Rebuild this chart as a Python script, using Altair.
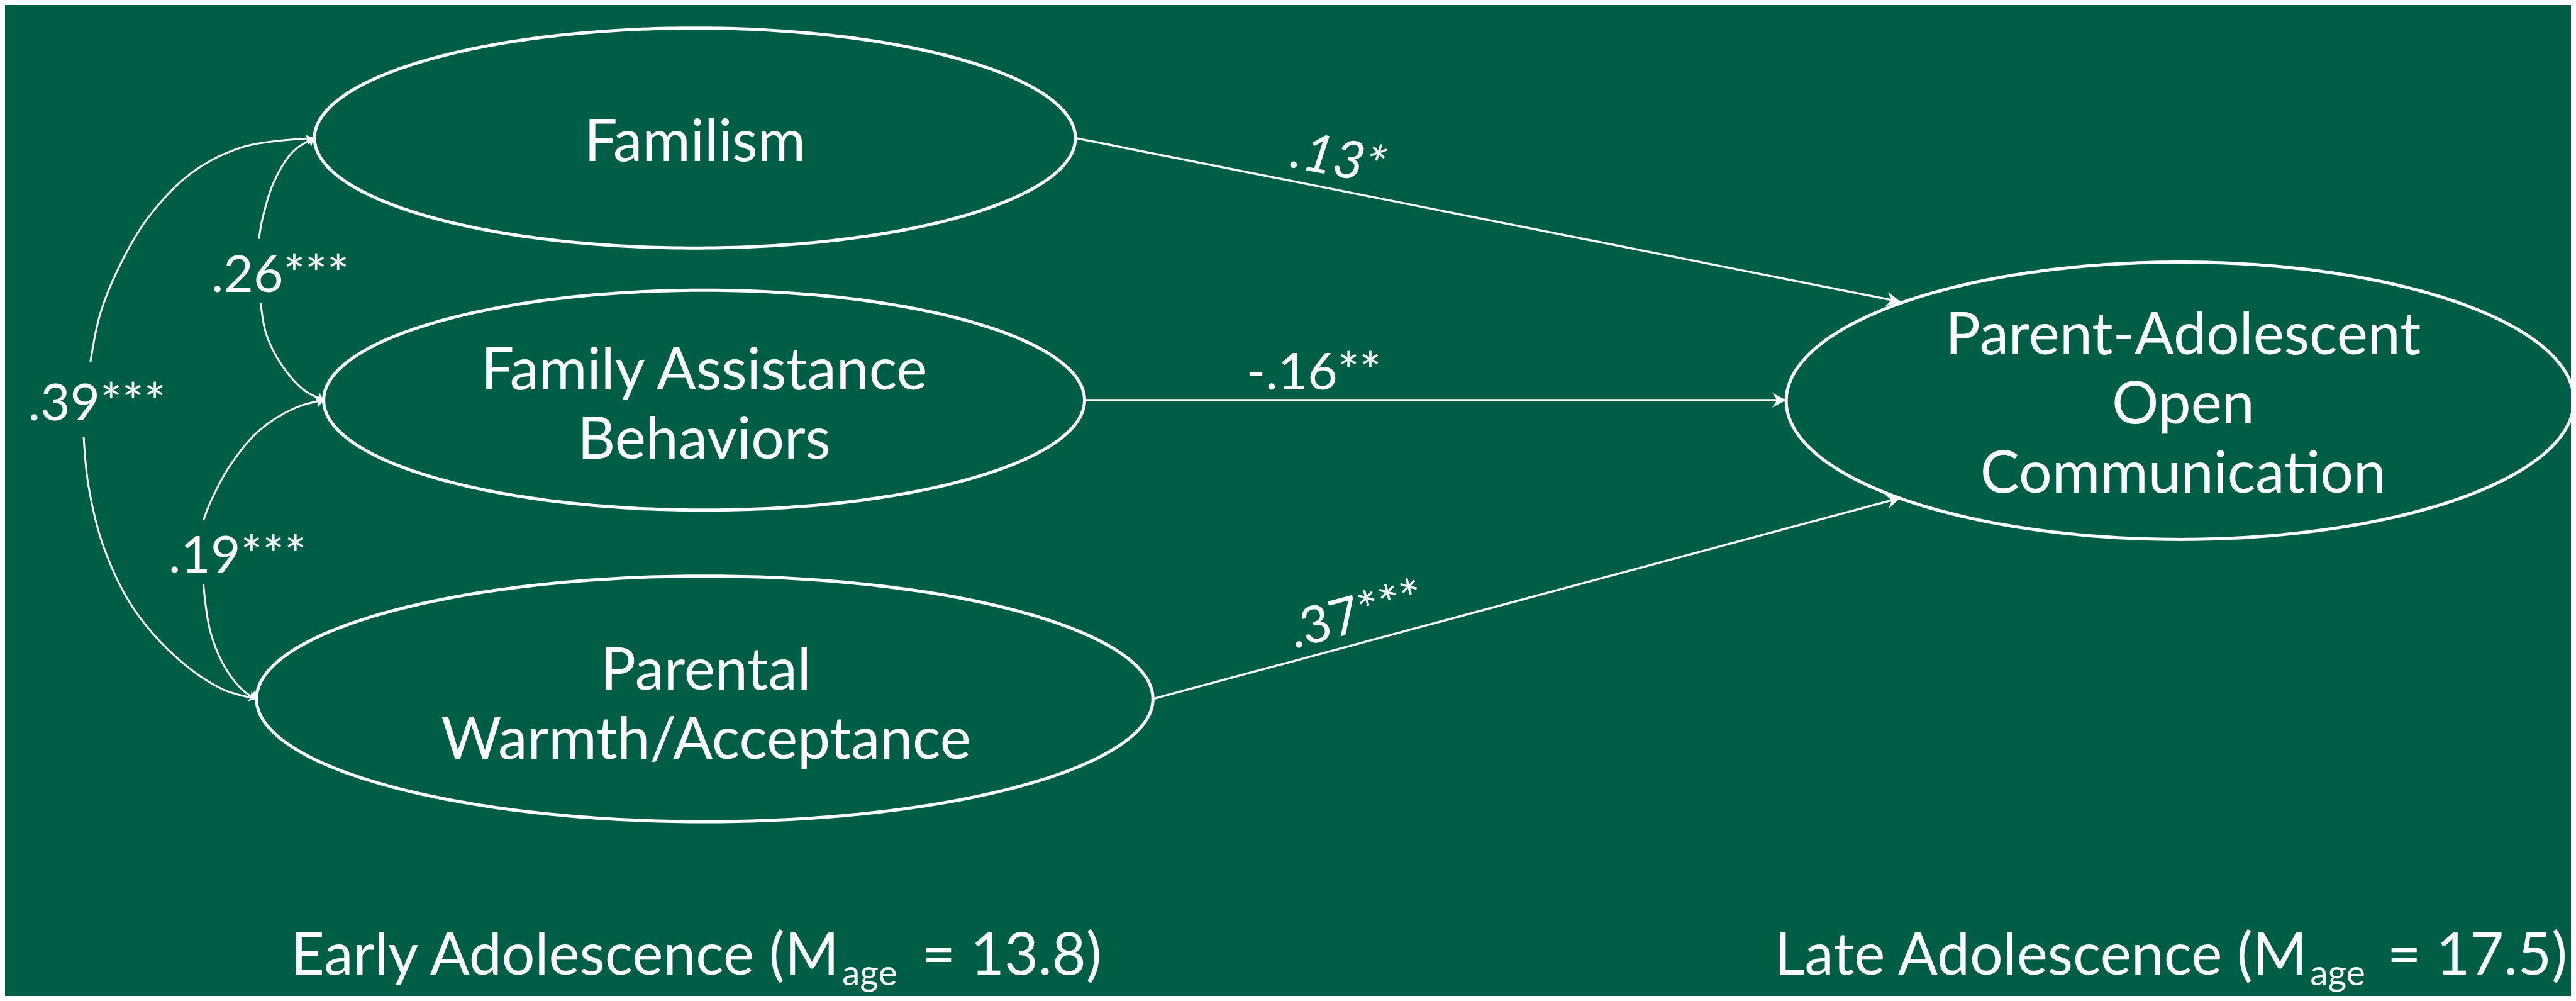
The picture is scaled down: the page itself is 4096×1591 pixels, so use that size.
import altair as alt
import pandas as pd
import numpy as np

S = 0.971
W_OUT, H_OUT = 4080, 1575
X0, X1 = 8 / S, (8 + W_OUT) / S
Y0, Y1 = 8 / S, (8 + H_OUT) / S

BG = "#005E47"
FG = "#FFFFFF"
FONT = "Lato"

# ---------------- data (reference pixel coordinates) ----------------
node_names = ["Familism", "FAB", "PWA", "PAOC"]
node_text = ["Familism", "Family Assistance\nBehaviors", "Parental\nWarmth/Acceptance",
             "Parent-Adolescent\nOpen\nCommunication"]
node_cx = [1138, 1153, 1154, 3570]
node_cy = [226, 655, 1144, 656]
node_rx = [623, 623, 734, 645]
node_ry = [180, 180, 201, 227]
text_x = [1138, 1153, 1156, 3575]
text_y = [264, 638, 1129, 580]

path_x1 = [1761, 1776, 1888]
path_y1 = [226, 655, 1144]
path_x2 = [3112, 2925, 3112]
path_y2 = [494, 655, 815]

path_lab = [".13*", "-.16**", ".37***"]
path_lab_x = [2110, 2041, 2119]
path_lab_y = [273, 637, 1062]
path_lab_ang = [11, 0, 345]

cov_lab = [".26***", ".39***", ".19***"]
cov_lab_x = [346, 46, 276]
cov_lab_y = [478, 688, 937]

# covariance curves, each split in two pieces around its label
curve_ids = ["c39a", "c39b", "c26a", "c26b", "c19a", "c19b"]
curve_x = [
    [514, 400, 315, 242, 194, 164, 148],
    [137, 145, 170, 218, 291, 364, 420],
    [514, 479, 448, 430, 424],
    [427, 436, 461, 497, 530],
    [530, 485, 424, 376, 345, 333],
    [333, 345, 370, 400, 420],
]
curve_y = [
    [226, 240, 282, 357, 439, 514, 593],
    [715, 796, 896, 995, 1078, 1128, 1144],
    [226, 249, 299, 357, 391],
    [496, 547, 597, 638, 655],
    [655, 667, 705, 763, 821, 852],
    [956, 1036, 1095, 1132, 1144],
]
cov_head_x = [514, 514, 530, 530, 420, 420]
cov_head_y = [226, 226, 655, 655, 1144, 1144]
cov_head_ang = [346, 322, 25, 343, 20, 45]

group_main = ["Early Adolescence (M", "Late Adolescence (M"]
group_sub = ["age", "age"]
group_rest = ["= 13.8)", "= 17.5)"]
group_x = [476, 2906]
group_sub_x = [1379, 3783]
group_rest_x = [1509, 3909]
group_y = [1595, 1595]
group_sub_y = [1613, 1613]

# ---------------- tables ----------------
t = np.linspace(0, 2 * np.pi, 361)
ell_rows = []
for n, cx, cy, rx, ry in zip(node_names, node_cx, node_cy, node_rx, node_ry):
    for i, a in enumerate(t):
        ell_rows.append({"node": n, "i": i, "x": cx + rx * np.cos(a), "y": cy + ry * np.sin(a)})
ell_df = pd.DataFrame(ell_rows)

node_df = pd.DataFrame({"text": node_text, "x": text_x, "y": text_y})
path_df = pd.DataFrame({"x": path_x1, "y": path_y1, "x2": path_x2, "y2": path_y2})
path_df["ang"] = (np.degrees(np.arctan2(np.array(path_y2) - np.array(path_y1),
                                        np.array(path_x2) - np.array(path_x1)))) % 360

curve_rows = []
for cid, xs_, ys_ in zip(curve_ids, curve_x, curve_y):
    for i, (xx, yy) in enumerate(zip(xs_, ys_)):
        curve_rows.append({"c": cid, "i": i, "x": xx, "y": yy})
curve_df = pd.DataFrame(curve_rows)
cov_head_df = pd.DataFrame({"x": cov_head_x, "y": cov_head_y, "ang": cov_head_ang})

plab_df = pd.DataFrame({"text": path_lab, "x": path_lab_x, "y": path_lab_y, "ang": path_lab_ang})
clab_df = pd.DataFrame({"text": cov_lab, "x": cov_lab_x, "y": cov_lab_y})
main_df = pd.DataFrame({"text": group_main, "x": group_x, "y": group_y})
sub_df = pd.DataFrame({"text": group_sub, "x": group_sub_x, "y": group_sub_y})
rest_df = pd.DataFrame({"text": group_rest, "x": group_rest_x, "y": group_y})

# ---------------- scales ----------------
xsc = alt.Scale(domain=[X0, X1], nice=False, zero=False)
ysc = alt.Scale(domain=[Y0, Y1], nice=False, zero=False, reverse=True)
X = lambda f="x": alt.X(f"{f}:Q", scale=xsc, axis=None)
Y = lambda f="y": alt.Y(f"{f}:Q", scale=ysc, axis=None)

ARROW = "M0,0 L-2,-1.05 L-1.3,0 L-2,1.05 Z"
SMALL_ARROW = "M0,0 L-2,-1.4 L-1.55,0 L-2,1.4 Z"

ellipses = alt.Chart(ell_df).mark_line(color=FG, strokeWidth=5).encode(
    x=X(), y=Y(), detail="node:N", order="i:Q")

paths = alt.Chart(path_df).mark_rule(color=FG, strokeWidth=3.4).encode(
    x=X(), y=Y(), x2="x2:Q", y2="y2:Q")

heads = alt.Chart(path_df).mark_point(shape=ARROW, filled=True, color=FG, opacity=1,
                                      size=500, strokeWidth=0).encode(
    x=X("x2"), y=Y("y2"), angle=alt.Angle("ang:Q", scale=None))

curves = alt.Chart(curve_df).mark_line(color=FG, strokeWidth=3, interpolate="catmull-rom").encode(
    x=X(), y=Y(), detail="c:N", order="i:Q")

cheads = alt.Chart(cov_head_df).mark_point(shape=SMALL_ARROW, filled=True, color=FG, opacity=1,
                                           size=140, strokeWidth=0).encode(
    x=X(), y=Y(), angle=alt.Angle("ang:Q", scale=None))

node_txt = alt.Chart(node_df).mark_text(font=FONT, fontSize=93, color=FG, align="center",
                                        baseline="alphabetic", lineBreak="\n",
                                        lineHeight=110).encode(
    x=X(), y=Y(), text="text:N")

plab_reg = alt.Chart(plab_df.iloc[1:]).mark_text(font=FONT, fontSize=82, color=FG, align="left",
                                                 baseline="alphabetic").encode(
    x=X(), y=Y(), text="text:N", angle=alt.Angle("ang:Q", scale=None))

plab_it = alt.Chart(plab_df.iloc[:1]).mark_text(font=FONT, fontStyle="italic",
                                                fontSize=84, color=FG, align="left",
                                                baseline="alphabetic").encode(
    x=X(), y=Y(), text="text:N", angle=alt.Angle("ang:Q", scale=None))

clab = alt.Chart(clab_df).mark_text(font=FONT, fontSize=82, color=FG, align="left",
                                    baseline="alphabetic").encode(
    x=X(), y=Y(), text="text:N")

main_t = alt.Chart(main_df).mark_text(font=FONT, fontSize=93, color=FG, align="left",
                                      baseline="alphabetic").encode(x=X(), y=Y(), text="text:N")
sub_t = alt.Chart(sub_df).mark_text(font=FONT, fontSize=57, color=FG, align="left",
                                    baseline="alphabetic").encode(x=X(), y=Y(), text="text:N")
rest_t = alt.Chart(rest_df).mark_text(font=FONT, fontSize=93, color=FG, align="left",
                                      baseline="alphabetic").encode(x=X(), y=Y(), text="text:N")

chart = alt.layer(
    ellipses, paths, heads, curves, cheads, node_txt, plab_reg, plab_it, clab,
    main_t, sub_t, rest_t
).properties(
    width=W_OUT, height=H_OUT, padding=0,
    autosize=alt.AutoSizeParams(type="none"),
    background=BG,
).configure_view(stroke=None)

chart.save("out.html", embed_options={"renderer": "svg", "actions": False})
